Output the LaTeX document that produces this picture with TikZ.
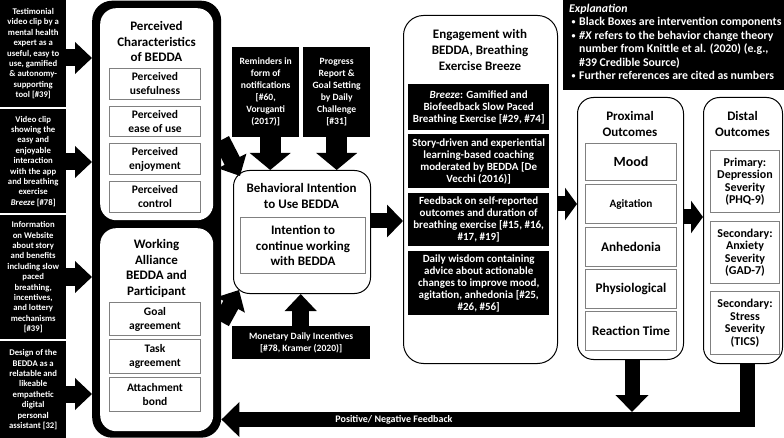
\documentclass[tikz,border=0pt]{standalone}
\usepackage{fontspec}
\setmainfont{Carlito}
\usetikzlibrary{arrows.meta}
\newcommand{\fsz}[2]{\fontsize{#1}{#2}\selectfont}
\newcommand{\bul}{\makebox[10pt][l]{\hspace{2.5pt}\raisebox{1.2pt}{\fsz{8}{8}•}}}
\begin{document}
\begin{tikzpicture}[x=1pt,y=-1pt,
  sz/.style 2 args={minimum width=#1pt, minimum height=#2pt},
  blk/.style={fill=black, text=white, font=\bfseries\fsz{8.7}{10.4}, align=center, inner sep=0pt, anchor=north west},
  gbox/.style={draw=black!50, line width=1pt, fill=white, align=center, inner sep=0pt, anchor=north west, font=\bfseries\fsz{11.5}{14}},
  cont/.style={draw=black, line width=1pt, fill=white, rounded corners=16pt, anchor=north west, inner sep=0pt},
  ttl/.style={align=center, inner sep=0pt, font=\bfseries\fsz{13}{15.5}},
  barrow/.style={line width=17pt, -{Triangle[length=17pt,width=31pt]}},
  varrow/.style={line width=21pt, -{Triangle[length=17pt,width=40pt]}},
  sarrow/.style={line width=15pt, -{Triangle[length=16pt,width=32pt]}},
  tarrow/.style={line width=15pt, -{Triangle[length=12pt,width=32pt]}}
]
\useasboundingbox (0,0) rectangle (784,438);

% left column
\node[blk, sz={66}{107}] (l1) at (0,0) {Testimonial\\video clip by a\\mental health\\expert as a\\useful, easy to\\use, gamified\\\& autonomy-\\supporting\\tool [\#39]};
\node[blk, sz={66}{104}] (l2) at (0,109) {Video clip\\showing the\\easy and\\enjoyable\\interaction\\with the app\\and breathing\\exercise\\\textit{Breeze} [\#78]};
\node[blk, sz={66}{124}] (l3) at (0,215) {Information\\on Website\\about story\\and benefits\\including slow\\paced\\breathing,\\incentives,\\and lottery\\mechanisms\\{[}\#39{]}};
\node[blk, sz={66}{97}] (l4) at (0,341) {Design of the\\BEDDA as a\\relatable and\\likeable\\empathetic\\digital\\personal\\assistant [32]};

% big frame
\node[fill=black, rounded corners=20pt, anchor=north west, sz={129}{437}, inner sep=0pt] (frame) at (92,0.5) {};
\node[fill=white, rounded corners=16pt, anchor=north west, sz={113}{212}, inner sep=0pt] (pc) at (100,8) {};
\node[fill=white, rounded corners=16pt, anchor=north west, sz={113}{203}, inner sep=0pt] (wa) at (100,228) {};
\node[ttl] (pct) at (156.5,41.5) {Perceived\\Characteristics\\of BEDDA};
\node[gbox, sz={91}{31}] (pu) at (109,68) {Perceived\\usefulness};
\node[gbox, sz={91}{30}] (pe) at (109,106) {Perceived\\ease of use};
\node[gbox, sz={91}{31}] (pj) at (109,143) {Perceived\\enjoyment};
\node[gbox, sz={91}{31}] (pk) at (109,181) {Perceived\\control};
\node[ttl] (wat) at (156.5,268.5) {Working\\Alliance\\BEDDA and\\Participant};
\node[gbox, sz={91}{33}] (ga) at (109,302) {Goal\\agreement};
\node[gbox, sz={91}{34}] (ta) at (109,339) {Task\\agreement};
\node[gbox, sz={91}{34}] (ab) at (109,377) {Attachment\\bond};

% left arrows
\draw[barrow] (l1.east |- 0,58) -- (frame.west |- 0,58);
\draw[barrow] (l2.east |- 0,162) -- (frame.west |- 0,162);
\draw[barrow] (l3.east |- 0,277) -- (frame.west |- 0,277);
\draw[barrow] (l4.east |- 0,394) -- (frame.west |- 0,394);

% middle
\node[blk, font=\bfseries\fsz{9.6}{12}, sz={67}{90}] (rem) at (232,47) {Reminders in\\form of\\notifications\\{[}\#60,\\Voruganti\\(2017){]}};
\node[blk, font=\bfseries\fsz{9.6}{12}, sz={67}{90}] (prog) at (303,47) {Progress\\Report \&\\Goal Setting\\by Daily\\Challenge\\{[}\#31{]}};
\node[cont, sz={137}{123}] (bi) at (233,170) {};
\node[ttl] (bit) at (301.5,196) {Behavioral Intention\\to Use BEDDA};
\node[gbox, font=\bfseries\fsz{13}{15.5}, sz={125}{56}] (bii) at (240,217) {Intention to\\continue working\\with BEDDA};
\node[blk, font=\bfseries\fsz{9.6}{11.7}, sz={138}{33}] (mon) at (232,326) {Monetary Daily Incentives\\{[}\#78, Kramer (2020){]}};

\draw[varrow] ([xshift=4.5pt]rem.south) -- ([xshift=4.5pt]rem.south |- bi.north);
\draw[varrow] (prog.south) -- (prog.south |- bi.north);
\draw[barrow] ([xshift=-0.5pt]mon.north) -- ([xshift=-0.5pt]mon.north |- bi.south);
\draw[barrow] (frame.east |- 0,140) -- ([shift={(7pt,-6pt)}]bi.north west);
\draw[barrow] (frame.east |- 0,322) -- ([shift={(6pt,4pt)}]bi.south west);

% engagement
\node[cont, rounded corners=20pt, sz={154}{348}] (eng) at (403,15) {};
\node[ttl, font=\bfseries\fsz{13}{16}] (engt) at (480,50) {Engagement with\\BEDDA, Breathing\\Exercise Breeze};
\node[blk, font=\bfseries\fsz{11}{11.9}, sz={141}{46}] (e1) at (408,84) {\textit{Breeze}: Gamified and\\Biofeedback Slow Paced\\Breathing Exercise [\#29, \#74]};
\node[blk, font=\bfseries\fsz{11}{11.9}, sz={141}{54}] (e2) at (408,134) {Story-driven and experiential\\learning-based coaching\\moderated by BEDDA [De\\Vecchi (2016)]};
\node[blk, font=\bfseries\fsz{11}{11.9}, sz={141}{53}] (e3) at (408,193) {Feedback on self-reported\\outcomes and duration of\\breathing exercise [\#15, \#16,\\\#17, \#19]};
\node[blk, font=\bfseries\fsz{11}{11.9}, sz={141}{64}] (e4) at (408,251) {Daily wisdom containing\\advice about actionable\\changes to improve mood,\\agitation, anhedonia [\#25,\\\#26, \#56]};
\draw[sarrow] (bi.east |- 0,221) -- (eng.west |- 0,221);

% explanation
\node[fill=black, anchor=north west, sz={221}{90}, inner sep=0pt] (explbg) at (563,0) {};
\node[anchor=north west, text=white, align=left, inner sep=0pt, font=\bfseries\fsz{11.8}{13.4}] (expl) at (569,4) {\textit{Explanation}\\
\bul Black Boxes are intervention components\\
\bul\textit{\#X} refers to the behavior change theory\\
\hspace*{10pt}number from Knittle et al. (2020) (e.g.,\\
\hspace*{10pt}\#39 Credible Source)\\
\bul Further references are cited as numbers};

% proximal
\node[cont, sz={106}{262}] (prox) at (577,97) {};
\node[ttl] (proxt) at (630,124) {Proximal\\Outcomes};
\node[gbox, font=\bfseries\fsz{14}{16}, sz={91}{37}] (mood) at (585,143) {Mood};
\node[gbox, font=\bfseries\fsz{11.3}{14}, sz={91}{39}] (agit) at (585,184) {Agitation};
\node[gbox, font=\bfseries\fsz{13.2}{15}, sz={91}{39}] (anh) at (585,227) {Anhedonia};
\node[gbox, font=\bfseries\fsz{13.2}{15}, sz={91}{39}] (phys) at (585,269) {Physiological};
\node[gbox, font=\bfseries\fsz{13.2}{15}, sz={91}{39}] (rt) at (585,311) {Reaction Time};

% distal
\node[cont, sz={79}{266}] (dist) at (703,97) {};
\node[ttl] (distt) at (742.5,124) {Distal\\Outcomes};
\node[gbox, font=\bfseries\fsz{12}{12.5}, sz={69}{62}] (d1) at (710,150) {Primary:\\Depression\\Severity\\(PHQ-9)};
\node[gbox, font=\bfseries\fsz{12}{12.5}, sz={69}{62}] (d2) at (710,221) {Secondary:\\Anxiety\\Severity\\(GAD-7)};
\node[gbox, font=\bfseries\fsz{12}{12.5}, sz={69}{63}] (d3) at (710,291) {Secondary:\\Stress\\Severity\\(TICS)};

\draw[tarrow] (eng.east |- 0,204) -- (prox.west |- 0,204);
\draw[tarrow] (prox.east |- 0,217) -- (dist.west |- 0,217);

% feedback
\coordinate (fbc) at (747.5,419.5);
\coordinate (fbtop) at (632,412);
\draw[sarrow, -{Triangle[length=17pt,width=32pt]}] (prox.south -| fbtop) -- (fbtop);
\draw[line width=15pt, line join=miter, -{Triangle[length=18pt,width=34pt]}] (dist.south -| fbc) -- (fbc) -- (frame.east |- fbc);
\node[text=white, inner sep=0pt, font=\bfseries\fsz{10}{12}] (fbl) at (394,420) {Positive/ Negative Feedback};
\end{tikzpicture}
\end{document}
